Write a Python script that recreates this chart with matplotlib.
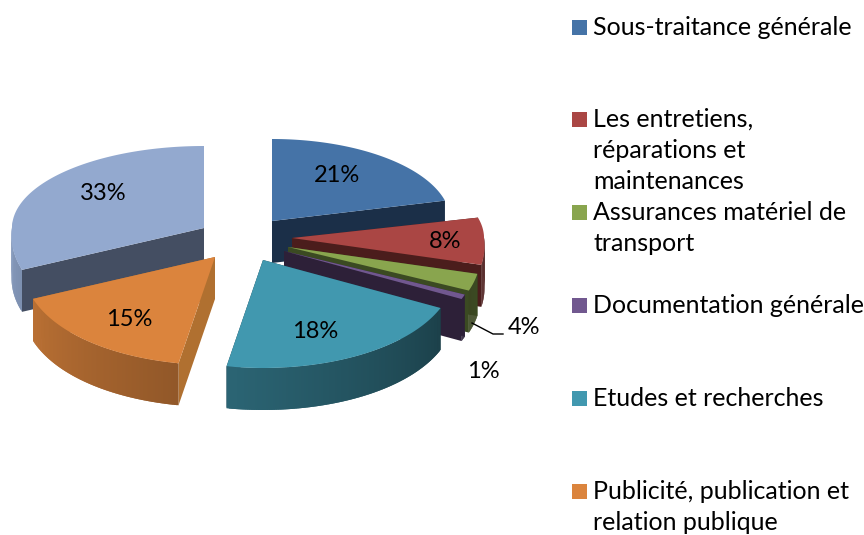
import numpy as np
import matplotlib
matplotlib.use("Agg")
import matplotlib.pyplot as plt
from matplotlib.colors import to_rgb
from matplotlib.patches import Polygon, Rectangle

plt.rcParams['font.family'] = ['Lato', 'DejaVu Sans']

labels = ["Sous-traitance générale",
          "Les entretiens,\nréparations et\nmaintenances",
          "Assurances matériel de\ntransport",
          "Documentation générale",
          "Etudes et recherches",
          "Publicité, publication et\nrelation publique"]
values = [21, 8, 4, 1, 18, 15, 33]
colors = ["#4573A7", "#AA4644", "#89A54E", "#71588F", "#4198AF", "#DB843D", "#93A9CF"]
face_colors = ["#1B2F48", "#4B1D1C", "#3B4A22", "#2D2038", "#1C3C48", "#B07030", "#444E62"]
legend_y = [27, 119, 212, 305, 398, 491]

# apex of each slice in pixels, because of the explosion
apex_x = [272, 292, 288, 284, 263, 215, 204]
apex_y = [221, 238, 247, 251, 260, 257, 228]
label_x = [337, 445, 524, 483, 315, 129, 103]
label_y = [176, 241, 328, 372, 331, 320, 193]
# perspective nudges the slice edges away from their true angle
end_shift = [0, 0, 5, 6, -3, -6, 0]
radius_scale = [0.93, 1, 1, 1, 1, 1, 1]

RX, RY_BACK, RY_FRONT, DEPTH = 192, 82, 108, 42


def outline(a0, a1, scale):
    t = np.radians(np.linspace(a0, a1, 120))
    s = np.sin(t)
    ry = np.where(s > 0, RY_BACK, RY_FRONT)
    rx = RX + 14 * np.maximum(0, -s)
    return scale * rx * np.cos(t), -ry * s, np.degrees(t)


def shade(col, f):
    return tuple(min(1, c * f) for c in to_rgb(col))


fig = plt.figure(figsize=(8.64, 5.35), dpi=100)
ax = fig.add_axes([0, 0, 1, 1])
ax.set_xlim(0, 864)
ax.set_ylim(535, 0)
ax.axis("off")

shares = np.array(values) / sum(values) * 360
ends = 90 - np.cumsum(shares) + np.array(end_shift)
starts = np.r_[90, ends[:-1]]

# back slices first, front ones last
order = [6, 0, 1, 2, 3, 5, 4]
for z, i in enumerate(order):
    x0, y0 = apex_x[i], apex_y[i]
    dx, dy, ang = outline(starts[i], ends[i], radius_scale[i])
    xs, ys = x0 + dx, y0 + dy
    # cut faces
    for xe, ye in [(xs[0], ys[0]), (xs[-1], ys[-1])]:
        ax.add_patch(Polygon([(x0, y0), (xe, ye), (xe, ye + DEPTH), (x0, y0 + DEPTH)],
                             fc=face_colors[i], ec="none", zorder=z + 1))
    # outer wall, darker towards the right
    for k in range(len(xs) - 2):
        if np.sin(np.radians(ang[k])) > 0.05:
            continue
        off = abs(((ang[k] + 25 + 180) % 360) - 180)
        f = 0.42 + 0.43 * off / 132
        ax.add_patch(Polygon([(xs[k], ys[k]), (xs[k + 2], ys[k + 2]),
                              (xs[k + 2], ys[k + 2] + DEPTH), (xs[k], ys[k] + DEPTH)],
                             fc=shade(colors[i], f), ec="none", zorder=z + 1.2))
    ax.add_patch(Polygon(np.column_stack([np.r_[x0, xs], np.r_[y0, ys]]),
                         fc=colors[i], ec="none", zorder=z + 1.5))
    ax.text(label_x[i], label_y[i], f"{values[i]}%", fontsize=17, color="black",
            ha="center", va="center", zorder=20)

ax.plot([472, 493, 503], [323, 334, 334], color="black", lw=1, zorder=19)

for name, y, col in zip(labels, legend_y, colors):
    ax.add_patch(Rectangle((572, y - 7), 15, 15, fc=col, ec="none"))
    ax.text(593, y - 11, name, fontsize=18, color="black", ha="left", va="top",
            linespacing=1.42)

fig.savefig("out.png", dpi=100)
